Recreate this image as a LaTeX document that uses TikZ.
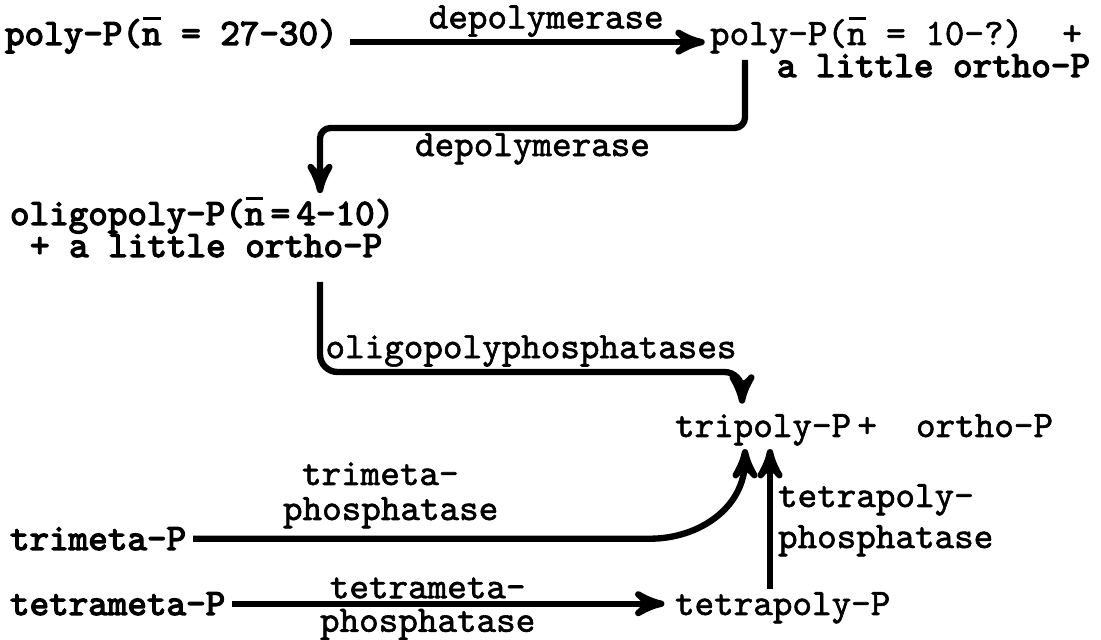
\documentclass[tikz,border=0pt]{standalone}
\usepackage{fontspec}
\newfontfamily\medmono{Latin Modern Mono}[FakeBold=1.6]
\newfontfamily\heavymono{Latin Modern Mono}[FakeBold=3.4]
\usetikzlibrary{arrows}

\newcommand{\nbar}{\makebox[0pt][l]{\hspace{0.04em}\raisebox{0.68em}{\rule{0.46em}{0.08em}}}n}

\begin{document}
\begin{tikzpicture} [x=.01cm, y=.01cm,
  every node/.style={font=\fontsize{10.6}{12}\selectfont\medmono, inner sep=0pt, outer sep=0pt},
  heavy/.style={font=\fontsize{10.6}{12}\selectfont\heavymono},
  lbl/.style={inner sep=1.5pt},
  arr/.style={line width=1.8pt, ->, >=stealth'}]
\useasboundingbox (0,0) rectangle (1101,640);
% compounds
\node[heavy, anchor=base west] (p30) at (5,595) {poly-P(\nbar{} = 27-30)};
\node[anchor=base west] (p10) at (710,595) {poly-P(\nbar{} = 10-?)\ \ +};
\node[heavy, anchor=base east] (p10o) at (1090,563) {a little ortho-P};
\node[heavy, anchor=base west] (oligo) at (10,415) {oligopoly-P(\nbar{}\,=\,4-10)};
\node[heavy, anchor=base west] (oligoo) at (30,383) {+ a little ortho-P};
\node[anchor=base west] (tripoly) at (675,203) {tripoly-P\,+\ \ ortho-P};
\node[heavy, anchor=base west] (trimeta) at (10,90) {trimeta-P};
\node[heavy, anchor=base west] (tetrameta) at (10,25) {tetrameta-P};
\node[anchor=base west] (tetrapoly) at (675,25) {tetrapoly-P};
% enzyme labels
\node[anchor=base west] (tmp1) at (302,155) {trimeta-};
\node[anchor=base west] (tmp2) at (283,120) {phosphatase};
\node[anchor=base west] (tpp1) at (778,133) {tetrapoly-};
\node[anchor=base west] (tpp2) at (778,92) {phosphatase};
% bends
\coordinate (b1) at (745,580);
\coordinate (b2) at (320,512);
\coordinate (c1) at (320,358);
\coordinate (c2) at (742,268);
\coordinate (t0) at (650,0);
\coordinate (t1) at (745,0);
\coordinate (t3) at (745,180);
\coordinate (t2) at (770,0);
% reactions
\draw[arr, shorten <=3.5pt, shorten >=1.5pt] ([yshift=-2pt]p30.east) -- node[lbl, above, pos=.56]{depolymerase} ([yshift=-2pt]p30.east -| p10.west);
\draw[arr, rounded corners=3pt, shorten >=1pt] (b1) |- node[lbl, below, pos=.75]{depolymerase} (b2) -- (b2 |- oligo.north);
\draw[arr, rounded corners=5pt, shorten >=3pt] (c1) |- node[lbl, above, pos=.75]{oligopolyphosphatases} (c2) -- (c2 |- tripoly.north);
\draw[arr, shorten <=2pt, shorten >=1pt] (trimeta.east) -- (trimeta.east -| t0) to[out=0, in=-90] (t3) -- (t1 |- tripoly.south);
\draw[arr, shorten <=1pt, shorten >=1pt] (t2 |- tetrapoly.north) -- (t2 |- tripoly.south);
\draw[arr, shorten <=2pt, shorten >=3pt] (tetrameta.east) -- node[lbl, above, pos=.45]{tetrameta-} node[lbl, below, pos=.45]{phosphatase} (tetrameta.east -| tetrapoly.west);
\end{tikzpicture}
\end{document}
